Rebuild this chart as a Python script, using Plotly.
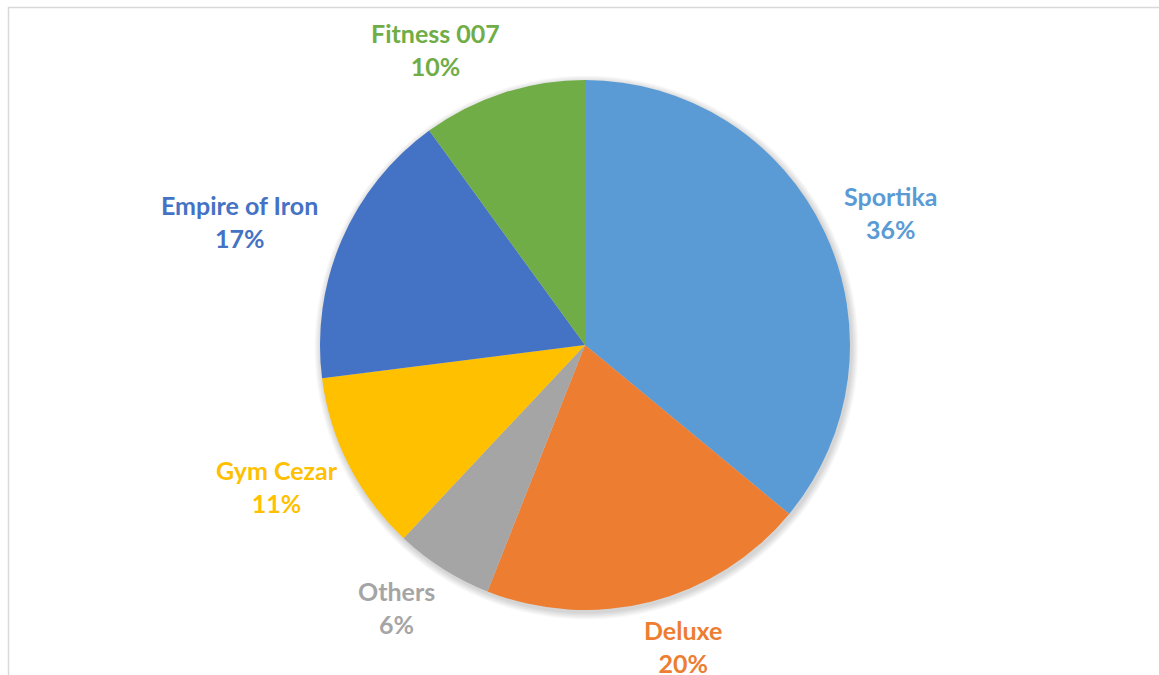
import math
import plotly.graph_objects as go

labels = ["Sportika", "Deluxe", "Others", "Gym Cezar", "Empire of Iron", "Fitness 007"]
values = [36, 20, 6, 11, 17, 10]
colors = ["#5B9BD5", "#ED7D31", "#A5A5A5", "#FFC000", "#4472C4", "#70AD47"]

W, H = 1159, 675
cx, cy, r = 585, 345, 265
FONT_SIZE = 25

fig = go.Figure(go.Pie(
    labels=labels, values=values, sort=False, direction="clockwise", rotation=0,
    marker=dict(colors=colors, line=dict(width=0)),
    textinfo="none", hoverinfo="label+percent", showlegend=False,
    domain=dict(x=[(cx - r) / W, (cx + r) / W], y=[1 - (cy + r) / H, 1 - (cy - r) / H]),
))


def clamp(v):
    return max(-1.0, min(1.0, v))


# label annotations positioned outside the pie (Excel-style "best fit" outside)
total = sum(values)
cum = 0
annotations = []
R = r + 20
for lab, v, col in zip(labels, values, colors):
    mid = (cum + v / 2) / total * 2 * math.pi
    cum += v
    dx, dy = math.sin(mid), -math.cos(mid)
    pct = f"{round(v / total * 100)}%"
    halfw = max(len(lab), len(pct)) * 12 / 2
    halfh = 29
    px = cx + dx * R + halfw * clamp(3 * dx)
    py = cy + dy * R + halfh * clamp(0.9 * dy)
    annotations.append(dict(
        x=px / W, y=1 - py / H, xref="paper", yref="paper", showarrow=False,
        text=f"<b>{lab}</b><br><b>{pct}</b>", align="center",
        font=dict(family="Lato, 'Open Sans', sans-serif", size=FONT_SIZE, color=col),
        xanchor="center", yanchor="middle",
    ))

shapes = [dict(type="rect", xref="paper", yref="paper",
               x0=8.5 / W, x1=1.02, y0=-0.02, y1=1 - 7.5 / H,
               line=dict(color="#D9D9D9", width=1.5), fillcolor="rgba(0,0,0,0)")]
# soft drop shadow beneath the pie
for k in range(7, 0, -1):
    rr = r + k
    ox, oy = 1.5, 2.5
    shapes.append(dict(type="circle", xref="paper", yref="paper", layer="below",
                       x0=(cx + ox - rr) / W, x1=(cx + ox + rr) / W,
                       y0=1 - (cy + oy + rr) / H, y1=1 - (cy + oy - rr) / H,
                       line=dict(width=0), fillcolor="rgba(0,0,0,0.022)"))

fig.update_layout(
    width=W, height=H, margin=dict(l=0, r=0, t=0, b=0),
    paper_bgcolor="white", plot_bgcolor="white",
    annotations=annotations, shapes=shapes,
)

fig.write_html("out.html")
